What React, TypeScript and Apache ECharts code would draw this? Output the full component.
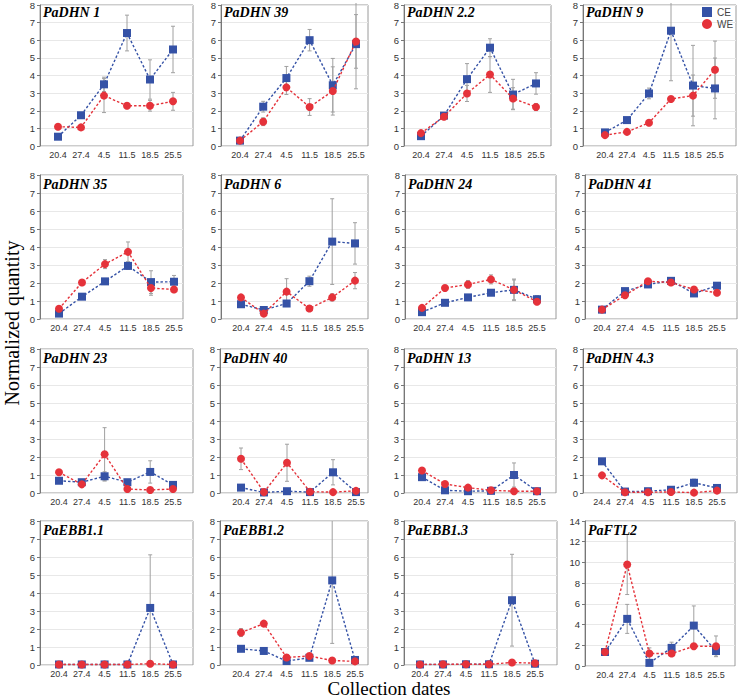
import React, { useEffect, useRef } from "react";
import * as echarts from "echarts";

// ---- categories ----
const dates = ["20.4", "27.4", "4.5", "11.5", "18.5", "25.5"];
const datesAlt = ["24.4", "27.4", "4.5", "11.5", "18.5", "25.5"];
const seriesNames = ["CE", "WE"];

// ---- values (mean, sd) ----
const DHN1_CE = [0.52, 1.72, 3.45, 6.32, 3.72, 5.4];
const DHN1_CE_SD = [0.05, 0.1, 0.4, 1.0, 1.1, 1.3];
const DHN1_WE = [1.08, 1.04, 2.82, 2.25, 2.25, 2.5];
const DHN1_WE_SD = [0.05, 0.05, 0.95, 0.1, 0.3, 0.5];

const DHN39_CE = [0.3, 2.2, 3.8, 5.92, 3.4, 5.7];
const DHN39_CE_SD = [0.05, 0.3, 0.65, 0.6, 1.5, 2.5];
const DHN39_WE = [0.3, 1.36, 3.28, 2.18, 3.08, 5.85];
const DHN39_WE_SD = [0.05, 0.22, 0.4, 0.47, 1.35, 1.5];

const DHN22_CE = [0.55, 1.7, 3.74, 5.5, 2.88, 3.5];
const DHN22_CE_SD = [0.05, 0.1, 0.87, 0.5, 0.85, 0.6];
const DHN22_WE = [0.72, 1.64, 2.94, 4.0, 2.66, 2.18];
const DHN22_WE_SD = [0.05, 0.08, 0.45, 1.0, 0.6, 0.2];

const DHN9_CE = [0.76, 1.45, 2.94, 6.45, 3.38, 3.22];
const DHN9_CE_SD = [0.15, 0.1, 0.3, 2.8, 2.25, 1.7];
const DHN9_WE = [0.61, 0.79, 1.3, 2.63, 2.82, 4.27];
const DHN9_WE_SD = [0.05, 0.05, 0.05, 0.12, 1.15, 1.6];

const DHN35_CE = [0.3, 1.24, 2.09, 2.95, 2.05, 2.07];
const DHN35_CE_SD = [0.05, 0.08, 0.1, 0.2, 0.63, 0.35];
const DHN35_WE = [0.57, 2.03, 3.05, 3.73, 1.72, 1.64];
const DHN35_WE_SD = [0.05, 0.08, 0.25, 0.55, 0.4, 0.15];

const DHN6_CE = [0.82, 0.5, 0.86, 2.1, 4.3, 4.2];
const DHN6_CE_SD = [0.08, 0.08, 0.1, 0.28, 2.38, 1.15];
const DHN6_WE = [1.2, 0.3, 1.52, 0.58, 1.2, 2.13];
const DHN6_WE_SD = [0.05, 0.05, 0.72, 0.05, 0.2, 0.45];

const DHN24_CE = [0.38, 0.9, 1.2, 1.46, 1.62, 1.1];
const DHN24_CE_SD = [0.03, 0.05, 0.05, 0.08, 0.55, 0.2];
const DHN24_WE = [0.62, 1.72, 1.92, 2.2, 1.62, 0.96];
const DHN24_WE_SD = [0.05, 0.15, 0.22, 0.25, 0.6, 0.1];

const DHN41_CE = [0.52, 1.55, 1.92, 2.12, 1.42, 1.85];
const DHN41_CE_SD = [0.05, 0.1, 0.1, 0.1, 0.12, 0.08];
const DHN41_WE = [0.52, 1.32, 2.1, 2.03, 1.64, 1.46];
const DHN41_WE_SD = [0.05, 0.1, 0.08, 0.08, 0.15, 0.05];

const DHN23_CE = [0.68, 0.6, 0.93, 0.6, 1.17, 0.45];
const DHN23_CE_SD = [0.05, 0.05, 0.25, 0.05, 0.62, 0.08];
const DHN23_WE = [1.15, 0.48, 2.15, 0.22, 0.17, 0.22];
const DHN23_WE_SD = [0.1, 0.05, 1.48, 0.05, 0.03, 0.05];

const DHN40_CE = [0.3, 0.03, 0.1, 0.05, 1.15, 0.05];
const DHN40_CE_SD = [0.05, 0.01, 0.05, 0.02, 0.7, 0.02];
const DHN40_WE = [1.9, 0.05, 1.68, 0.07, 0.05, 0.12];
const DHN40_WE_SD = [0.6, 0.02, 1.03, 0.02, 0.02, 0.05];

const DHN13_CE = [0.88, 0.15, 0.1, 0.12, 1.0, 0.1];
const DHN13_CE_SD = [0.05, 0.03, 0.03, 0.03, 0.67, 0.02];
const DHN13_WE = [1.25, 0.5, 0.3, 0.15, 0.1, 0.1];
const DHN13_WE_SD = [0.08, 0.05, 0.05, 0.03, 0.02, 0.02];

const DHN43_CE = [1.76, 0.08, 0.1, 0.18, 0.57, 0.28];
const DHN43_CE_SD = [0.15, 0.02, 0.02, 0.05, 0.2, 0.05];
const DHN43_WE = [0.98, 0.04, 0.04, 0.06, 0.02, 0.13];
const DHN43_WE_SD = [0.05, 0.01, 0.01, 0.02, 0.01, 0.03];

const EBB11_CE = [0.03, 0.03, 0.03, 0.03, 3.17, 0.03];
const EBB11_CE_SD = [0.01, 0.01, 0.01, 0.01, 2.95, 0.01];
const EBB11_WE = [0.03, 0.03, 0.03, 0.03, 0.07, 0.03];
const EBB11_WE_SD = [0.01, 0.01, 0.01, 0.01, 0.15, 0.01];

const EBB12_CE = [0.9, 0.78, 0.22, 0.4, 4.7, 0.28];
const EBB12_CE_SD = [0.05, 0.08, 0.05, 0.05, 3.5, 0.05];
const EBB12_WE = [1.8, 2.3, 0.42, 0.5, 0.25, 0.2];
const EBB12_WE_SD = [0.22, 0.05, 0.05, 0.05, 0.03, 0.03];

const EBB13_CE = [0.03, 0.03, 0.04, 0.04, 3.6, 0.07];
const EBB13_CE_SD = [0.01, 0.01, 0.01, 0.01, 2.55, 0.02];
const EBB13_WE = [0.03, 0.04, 0.04, 0.04, 0.14, 0.1];
const EBB13_WE_SD = [0.01, 0.01, 0.01, 0.01, 0.05, 0.03];

const FTL2_CE = [1.35, 4.55, 0.3, 1.75, 3.9, 1.45];
const FTL2_CE_SD = [0.1, 1.4, 0.1, 0.55, 1.9, 0.5];
const FTL2_WE = [1.35, 9.8, 1.2, 1.2, 1.9, 1.9];
const FTL2_WE_SD = [0.1, 2.9, 0.55, 0.1, 0.1, 1.0];

// ---- panels (name, categories, y max, y step, data) ----
const panels = [
  { name: "PaDHN 1", cats: dates, ymax: 8, step: 1, ce: DHN1_CE, ceSd: DHN1_CE_SD, we: DHN1_WE, weSd: DHN1_WE_SD },
  { name: "PaDHN 39", cats: dates, ymax: 8, step: 1, ce: DHN39_CE, ceSd: DHN39_CE_SD, we: DHN39_WE, weSd: DHN39_WE_SD },
  { name: "PaDHN 2.2", cats: dates, ymax: 8, step: 1, ce: DHN22_CE, ceSd: DHN22_CE_SD, we: DHN22_WE, weSd: DHN22_WE_SD },
  { name: "PaDHN 9", cats: dates, ymax: 8, step: 1, ce: DHN9_CE, ceSd: DHN9_CE_SD, we: DHN9_WE, weSd: DHN9_WE_SD },
  { name: "PaDHN 35", cats: dates, ymax: 8, step: 1, ce: DHN35_CE, ceSd: DHN35_CE_SD, we: DHN35_WE, weSd: DHN35_WE_SD },
  { name: "PaDHN 6", cats: dates, ymax: 8, step: 1, ce: DHN6_CE, ceSd: DHN6_CE_SD, we: DHN6_WE, weSd: DHN6_WE_SD },
  { name: "PaDHN 24", cats: dates, ymax: 8, step: 1, ce: DHN24_CE, ceSd: DHN24_CE_SD, we: DHN24_WE, weSd: DHN24_WE_SD },
  { name: "PaDHN 41", cats: dates, ymax: 8, step: 1, ce: DHN41_CE, ceSd: DHN41_CE_SD, we: DHN41_WE, weSd: DHN41_WE_SD },
  { name: "PaDHN 23", cats: dates, ymax: 8, step: 1, ce: DHN23_CE, ceSd: DHN23_CE_SD, we: DHN23_WE, weSd: DHN23_WE_SD },
  { name: "PaDHN 40", cats: dates, ymax: 8, step: 1, ce: DHN40_CE, ceSd: DHN40_CE_SD, we: DHN40_WE, weSd: DHN40_WE_SD },
  { name: "PaDHN 13", cats: dates, ymax: 8, step: 1, ce: DHN13_CE, ceSd: DHN13_CE_SD, we: DHN13_WE, weSd: DHN13_WE_SD },
  { name: "PaDHN 4.3", cats: datesAlt, ymax: 8, step: 1, ce: DHN43_CE, ceSd: DHN43_CE_SD, we: DHN43_WE, weSd: DHN43_WE_SD },
  { name: "PaEBB1.1", cats: dates, ymax: 8, step: 1, ce: EBB11_CE, ceSd: EBB11_CE_SD, we: EBB11_WE, weSd: EBB11_WE_SD },
  { name: "PaEBB1.2", cats: dates, ymax: 8, step: 1, ce: EBB12_CE, ceSd: EBB12_CE_SD, we: EBB12_WE, weSd: EBB12_WE_SD },
  { name: "PaEBB1.3", cats: dates, ymax: 8, step: 1, ce: EBB13_CE, ceSd: EBB13_CE_SD, we: EBB13_WE, weSd: EBB13_WE_SD },
  { name: "PaFTL2", cats: dates, ymax: 14, step: 2, ce: FTL2_CE, ceSd: FTL2_CE_SD, we: FTL2_WE, weSd: FTL2_WE_SD },
];

// ---- layout: [boxLeft, boxTop, boxRight, boxBottom, firstCatX, lastCatX] ----
const boxes = [
  [40, 3, 193, 146, 58, 173], [221, 3, 368, 146, 240, 356], [404, 3, 551, 146, 421, 536], [583, 3, 736, 146, 605, 715],
  [40, 175, 183, 319, 59, 174], [221, 175, 368, 319, 241, 355], [405, 175, 556, 319, 422, 537], [585, 175, 737, 319, 602, 717],
  [40, 349, 193, 493, 59, 173], [220, 349, 368, 493, 241, 356], [404, 349, 556, 493, 422, 537], [583, 349, 737, 493, 602, 717],
  [40, 521, 193, 665, 59, 173], [220, 521, 368, 665, 241, 355], [404, 521, 557, 665, 420, 535], [585, 521, 735, 666, 605, 716],
];

const CE_COLOR = "#3552a6";
const WE_COLOR = "#e5323a";
const ERR_COLOR = "#a0a0a0";

function errorSeries(name: string, color: string, vals: number[], sds: number[], axisIdx: number, ymax: number) {
  return {
    type: "custom",
    name,
    xAxisIndex: axisIdx,
    yAxisIndex: axisIdx,
    z: 2,
    silent: true,
    itemStyle: { color },
    encode: { x: 0, y: 1 },
    data: vals.map((v, i) => [i, v, sds[i]]),
    renderItem: (_params: any, api: any) => {
      const i = api.value(0);
      const v = api.value(1);
      const sd = api.value(2);
      const hiVal = v + sd;
      const hi = Math.min(hiVal, ymax);
      const lo = Math.max(v - sd, 0);
      const pHi = api.coord([i, hi]);
      const pLo = api.coord([i, lo]);
      const st = { stroke: ERR_COLOR, lineWidth: 1 };
      const children: any[] = [
        { type: "line", shape: { x1: pHi[0], y1: pHi[1], x2: pLo[0], y2: pLo[1] }, style: st },
        { type: "line", shape: { x1: pLo[0] - 2, y1: pLo[1], x2: pLo[0] + 2, y2: pLo[1] }, style: st },
      ];
      if (hiVal <= ymax) {
        children.push({ type: "line", shape: { x1: pHi[0] - 2, y1: pHi[1], x2: pHi[0] + 2, y2: pHi[1] }, style: st });
      }
      return { type: "group", children };
    },
  };
}

function buildOption() {
  const grid: any[] = [];
  const xAxis: any[] = [];
  const yAxis: any[] = [];
  const series: any[] = [];
  const title: any[] = [];

  panels.forEach((p, k) => {
    const [bl, bt, br, bb, fx, lx] = boxes[k];
    const outer = 2 * k;
    const inner = 2 * k + 1;
    grid.push({
      left: bl, top: bt, width: br - bl, height: bb - bt,
      show: true, borderColor: "#9a9a9a", borderWidth: 1, backgroundColor: "#fff",
    });
    grid.push({ left: fx, top: bt, width: lx - fx, height: bb - bt, show: false });

    xAxis.push({ type: "value", gridIndex: outer, show: false, min: 0, max: 1 });
    xAxis.push({
      type: "category", gridIndex: inner, data: p.cats, boundaryGap: false,
      axisLine: { show: false }, axisTick: { show: false }, splitLine: { show: false },
      axisLabel: { interval: 0, fontSize: 9, color: "#333", margin: 4, fontFamily: "Liberation Sans" },
    });
    yAxis.push({
      type: "value", gridIndex: outer, min: 0, max: p.ymax, interval: p.step,
      axisLine: { show: true, lineStyle: { color: "#777" } },
      axisTick: { show: true, length: 3, lineStyle: { color: "#777" } },
      axisLabel: { fontSize: 9.5, color: "#333", margin: 5, fontFamily: "Liberation Sans" },
      splitLine: { show: true, lineStyle: { color: "#e8e8e8", width: 1 } },
    });
    yAxis.push({ type: "value", gridIndex: inner, min: 0, max: p.ymax, show: false, splitLine: { show: false } });

    title.push({
      text: p.name, left: bl + 3, top: bt + 2, padding: 0,
      textStyle: { fontFamily: "Liberation Serif", fontStyle: "italic", fontWeight: "bold", fontSize: 14, color: "#000" },
    });

    series.push(errorSeries("CE sd", CE_COLOR, p.ce, p.ceSd, inner, p.ymax));
    series.push(errorSeries("WE sd", WE_COLOR, p.we, p.weSd, inner, p.ymax));
    series.push({
      type: "line", name: seriesNames[0], xAxisIndex: inner, yAxisIndex: inner, data: p.ce,
      symbol: "rect", symbolSize: 8, z: 3,
      lineStyle: { color: CE_COLOR, width: 1.4, type: [2.5, 2] },
      itemStyle: { color: CE_COLOR },
    });
    series.push({
      type: "line", name: seriesNames[1], xAxisIndex: inner, yAxisIndex: inner, data: p.we,
      symbol: "circle", symbolSize: 8, z: 4,
      lineStyle: { color: WE_COLOR, width: 1.4, type: [2.5, 2] },
      itemStyle: { color: WE_COLOR },
    });
  });

  return {
    animation: false,
    backgroundColor: "#fff",
    grid, xAxis, yAxis, series, title,
    legend: {
      orient: "vertical", left: 702, top: 7, itemGap: 2, itemWidth: 10, itemHeight: 10, padding: 0,
      textStyle: { fontSize: 10, color: "#444", fontFamily: "Liberation Sans" },
      data: [
        { name: "CE", icon: "rect", itemStyle: { color: CE_COLOR } },
        { name: "WE", icon: "circle", itemStyle: { color: WE_COLOR } },
      ],
    },
    graphic: [
      {
        type: "text", x: 12, y: 323, rotation: Math.PI / 2,
        style: { text: "Normalized quantity", font: '20px "Liberation Serif"', fill: "#000", align: "center", verticalAlign: "middle", textAlign: "center", textVerticalAlign: "middle" },
      },
      {
        type: "text", x: 389, y: 698,
        style: { text: "Collection dates", font: '19px "Liberation Serif"', fill: "#000", align: "center", verticalAlign: "bottom", textAlign: "center", textVerticalAlign: "bottom" },
      },
    ],
  };
}

export default function App() {
  const ref = useRef<HTMLDivElement>(null);
  useEffect(() => {
    if (!ref.current) return;
    const chart = echarts.init(ref.current, undefined, { renderer: "svg" });
    chart.setOption(buildOption() as any);
    return () => chart.dispose();
  }, []);
  return <div ref={ref} style={{ position: "fixed", left: 0, top: 0, width: 738, height: 699, background: "#fff" }} />;
}
